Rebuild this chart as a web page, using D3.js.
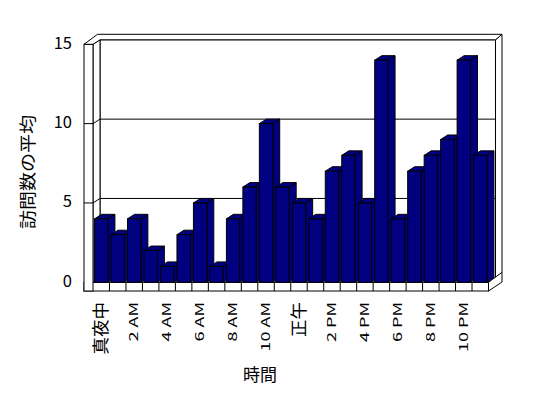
<!DOCTYPE html>
<html lang="ja">
<head>
<meta charset="UTF-8">
<title>訪問数の平均</title>
<script src="https://d3js.org/d3.v7.min.js"></script>
<style>
    body { margin: 0; background: #fff; }
    svg text { font-family: "Noto Sans CJK JP", "DejaVu Sans", sans-serif; fill: #000; }
</style>
</head>
<body>
<svg id="chart"></svg>
<script>
    // hourly data
    var hours = ["真夜中", "1 AM", "2 AM", "3 AM", "4 AM", "5 AM", "6 AM", "7 AM", "8 AM", "9 AM", "10 AM", "11 AM",
        "正午", "1 PM", "2 PM", "3 PM", "4 PM", "5 PM", "6 PM", "7 PM", "8 PM", "9 PM", "10 PM", "11 PM"];
    var visits = [4, 3, 4, 2, 1, 3, 5, 1, 4, 6, 10, 6, 5, 4, 7, 8, 5, 14, 4, 7, 8, 9, 14, 8];
    var yTicks = [0, 5, 10, 15];
    var xLabels = ["真夜中", "2 AM", "4 AM", "6 AM", "8 AM", "10 AM", "正午", "2 PM", "4 PM", "6 PM", "8 PM", "10 PM"];
    var yTitle = "訪問数の平均";
    var xTitle = "時間";

    const width = 548;
    const height = 398;

    // oblique 3d offsets
    const depth = {x: 7, y: -4.5};   // front plane -> back wall
    const wall = {x: 6.5, y: -5.5};  // back wall thickness
    const wallLeft = 84;             // outer edge of left wall
    const floorBottom = 291;

    const svg = d3.select("#chart")
        .attr("width", width)
        .attr("height", height);

    const cell = d3.scaleBand()
        .domain(hours)
        .range([93, 488.5])
        .padding(0);

    const x = d3.scaleBand()
        .domain(hours)
        .range([93, 488.5])
        .paddingInner(0.19)
        .paddingOuter(0.095);

    const y = d3.scaleLinear()
        .domain([0, 15])
        .range([282.3, 44.3]);

    const x0 = cell.range()[0], x1 = cell.range()[1];
    const yTop = y(15), yBase = y(0);
    const pts = a => a.map(p => p.join(",")).join(" ");

    const frame = svg.append("g")
        .attr("fill", "#fff")
        .attr("stroke", "#000")
        .attr("stroke-width", 1)
        .attr("stroke-linejoin", "miter");

    // back wall face
    frame.append("polygon")
        .attr("points", pts([[x0 + depth.x, yTop + depth.y], [x1 + depth.x, yTop + depth.y],
            [x1 + depth.x, yBase + depth.y], [x0 + depth.x, yBase + depth.y]]));

    // right end of back wall
    frame.append("polygon")
        .attr("points", pts([[x1 + depth.x, yTop + depth.y], [x1 + depth.x + wall.x, yTop + depth.y + wall.y],
            [x1 + depth.x + wall.x, yBase + depth.y + wall.y], [x1 + depth.x, yBase + depth.y]]));

    // gridlines on back wall
    yTicks.filter(t => t > 0 && t < 15).forEach(function (t) {
        frame.append("polyline")
            .attr("fill", "none")
            .attr("points", pts([[x0 + depth.x, y(t) + depth.y], [x1 + depth.x, y(t) + depth.y]]));
    });

    // floor top
    frame.append("polygon")
        .attr("points", pts([[x0, yBase], [x1, yBase], [x1 + depth.x, yBase + depth.y], [x0 + depth.x, yBase + depth.y]]));

    // floor right side
    frame.append("polygon")
        .attr("points", pts([[x1, yBase], [x1, floorBottom],
            [x1 + depth.x + wall.x, floorBottom + depth.y + wall.y + 1],
            [x1 + depth.x + wall.x, yBase + depth.y + wall.y]]));

    // floor front
    frame.append("rect")
        .attr("x", wallLeft)
        .attr("y", yBase)
        .attr("width", x1 - wallLeft)
        .attr("height", floorBottom - yBase);

    // category cells on floor front
    frame.selectAll("line.cell")
        .data(hours.slice(1))
        .join("line")
        .attr("class", "cell")
        .attr("x1", d => cell(d))
        .attr("x2", d => cell(d))
        .attr("y1", yBase)
        .attr("y2", floorBottom);

    // left wall inner side
    frame.append("polygon")
        .attr("points", pts([[x0, yTop], [x0 + depth.x, yTop + depth.y], [x0 + depth.x, yBase + depth.y], [x0, yBase]]));

    // left wall front
    frame.append("rect")
        .attr("x", wallLeft)
        .attr("y", yTop)
        .attr("width", x0 - wallLeft)
        .attr("height", floorBottom - yTop);

    // tick marks across left wall
    yTicks.filter(t => t > 0 && t < 15).forEach(function (t) {
        frame.append("polyline")
            .attr("fill", "none")
            .attr("points", pts([[wallLeft, y(t)], [x0, y(t)], [x0 + depth.x, y(t) + depth.y]]));
    });

    // wall tops
    frame.append("polygon")
        .attr("points", pts([[wallLeft, yTop], [x0, yTop], [x0 + depth.x, yTop + depth.y],
            [x1 + depth.x, yTop + depth.y], [x1 + depth.x + wall.x, yTop + depth.y + wall.y],
            [wallLeft + depth.x + wall.x, yTop + depth.y + wall.y]]));

    // bars
    const bw = x.bandwidth();
    const bars = svg.append("g")
        .attr("fill", "#000080")
        .attr("stroke", "#000")
        .attr("stroke-width", 1)
        .selectAll("g")
        .data(visits)
        .join("g");

    bars.append("polygon") // side
        .attr("points", (d, i) => {
            var l = x(hours[i]) + bw;
            return pts([[l, y(d)], [l + depth.x, y(d) + depth.y], [l + depth.x, yBase + depth.y], [l, yBase]]);
        });

    bars.append("polygon") // top
        .attr("points", (d, i) => {
            var l = x(hours[i]);
            return pts([[l, y(d)], [l + bw, y(d)], [l + bw + depth.x, y(d) + depth.y], [l + depth.x, y(d) + depth.y]]);
        });

    bars.append("rect") // front
        .attr("x", (d, i) => x(hours[i]))
        .attr("y", d => y(d))
        .attr("width", bw)
        .attr("height", d => yBase - y(d));

    // y axis labels
    svg.append("g")
        .selectAll("text")
        .data(yTicks)
        .join("text")
        .attr("x", 72)
        .attr("y", d => y(d) - 1.5)
        .attr("dy", "0.35em")
        .attr("text-anchor", "end")
        .attr("font-size", "16.5px")
        .text(d => d);

    // x axis labels (every other hour), rotated; latin ones are stretched like the original
    const isCJK = s => /[^\x00-\x7F]/.test(s);
    svg.append("g")
        .selectAll("text")
        .data(xLabels)
        .join("text")
        .attr("transform", d => `translate(${cell(d) + cell.bandwidth() / 2},302) rotate(-90)` + (isCJK(d) ? "" : " scale(1.5,1)"))
        .attr("dy", "0.35em")
        .attr("text-anchor", "end")
        .attr("font-size", d => isCJK(d) ? "17.5px" : "12px")
        .text(d => d);

    svg.append("text")
        .attr("transform", "translate(28,172) rotate(-90) scale(1.12,1)")
        .attr("dy", "0.35em")
        .attr("text-anchor", "middle")
        .attr("font-size", "17px")
        .text(yTitle);

    svg.append("text")
        .attr("x", 260)
        .attr("y", 375)
        .attr("dy", "0.35em")
        .attr("text-anchor", "middle")
        .attr("font-size", "17px")
        .text(xTitle);
</script>
</body>
</html>
